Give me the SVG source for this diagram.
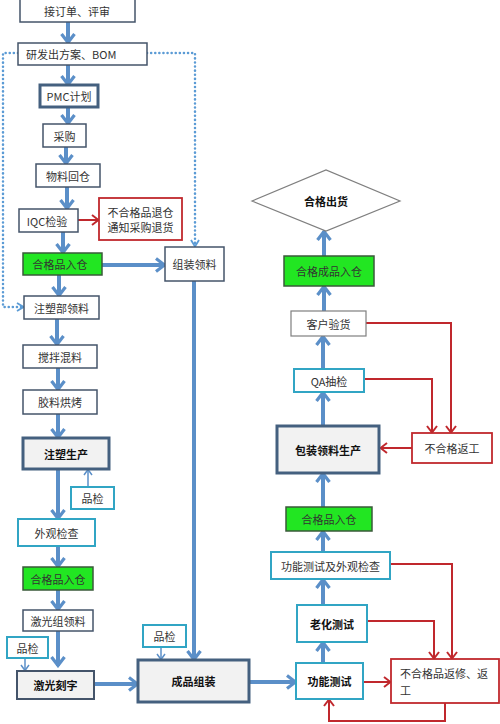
<svg xmlns="http://www.w3.org/2000/svg" width="500" height="724" viewBox="0 0 500 724">
<style>
text{font-family:"Noto Sans CJK SC","Liberation Sans",sans-serif;font-size:11px;fill:#333;text-anchor:middle;dominant-baseline:central}
.b{font-weight:bold;fill:#111}
.n{fill:#fff;stroke:#44546a;stroke-width:1.5}
.t{fill:#f2f2f2;stroke:#44607f;stroke-width:3}
.c{fill:#fff;stroke:#31a5c4;stroke-width:2}
.r{fill:#fff;stroke:#c0282d;stroke-width:1.8}
.g{fill:#22e622;stroke:#3a5a3a;stroke-width:1.5}
.gr{fill:#fff;stroke:#7f7f7f;stroke-width:1.2}
.ab{fill:none;stroke:#5b8fc8;stroke-width:4;marker-end:url(#mb)}
.at{fill:none;stroke:#5b8fc8;stroke-width:1.5;marker-end:url(#mt)}
.ar{fill:none;stroke:#c0282d;stroke-width:2;marker-end:url(#mr)}
.ad{fill:none;stroke:#5b9bd5;stroke-width:2.5;stroke-dasharray:0.1 4;stroke-linecap:round}
</style>
<defs>
<marker id="mb" markerUnits="userSpaceOnUse" viewBox="0 0 14 16" refX="12" refY="8" markerWidth="14" markerHeight="16" orient="auto"><path d="M3,1.5 L11.5,8 L3,14.5" fill="none" stroke="#5b8fc8" stroke-width="3.2"/></marker>
<marker id="mt" markerUnits="userSpaceOnUse" viewBox="0 0 10 10" refX="9" refY="5" markerWidth="10" markerHeight="10" orient="auto"><path d="M3,1 L8.5,5 L3,9" fill="none" stroke="#5b8fc8" stroke-width="1.5"/></marker>
<marker id="mr" markerUnits="userSpaceOnUse" viewBox="0 0 10 12" refX="9" refY="6" markerWidth="10" markerHeight="12" orient="auto"><path d="M2,1 L8.5,6 L2,11" fill="none" stroke="#c0282d" stroke-width="2"/></marker>
<marker id="md" markerUnits="userSpaceOnUse" viewBox="0 0 10 10" refX="9" refY="5" markerWidth="10" markerHeight="10" orient="auto"><path d="M2,1 L8.5,5 L2,9" fill="none" stroke="#5b9bd5" stroke-width="1.8"/></marker>
</defs>
<g id="connectors">
<path class="ad" d="M18,53 H3 V307 H22"/>
<path d="M17,307 H24" fill="none" stroke="none" marker-end="url(#md)"/>
<path class="ad" d="M147,53 H195 V245"/>
<path d="M195,240 V247" fill="none" stroke="none" marker-end="url(#md)"/>
<path class="ab" d="M68,22 V43"/>
<path class="ab" d="M68,65 V85"/>
<path class="ab" d="M68,107 V124"/>
<path class="ab" d="M66,147 V164"/>
<path class="ab" d="M67,187 V209"/>
<path class="ab" d="M63,232 V253"/>
<path class="ab" d="M59,275 V296"/>
<path class="ab" d="M57,319 V345"/>
<path class="ab" d="M58,368 V390"/>
<path class="ab" d="M58,414 V438"/>
<path class="ab" d="M58,469 V519"/>
<path class="ab" d="M58,546 V567"/>
<path class="ab" d="M58,590 V610"/>
<path class="ab" d="M58,631 V666"/>
<path class="ab" d="M102,265 H165"/>
<path class="ab" d="M94,684 H138"/>
<path class="ab" d="M194,281 V660"/>
<path class="ab" d="M249,682 H296"/>
<path class="ab" d="M323,663 V642"/>
<path class="ab" d="M323,605 V579"/>
<path class="ab" d="M323,552 V531"/>
<path class="ab" d="M323,507 V473"/>
<path class="ab" d="M323,426 V392"/>
<path class="ab" d="M323,369 V336"/>
<path class="ab" d="M324,311 V286"/>
<path class="ab" d="M324,256 V231"/>
<path class="at" d="M88,487 V469"/>
<path class="at" d="M25,658 V671"/>
<path class="at" d="M161,647 V660"/>
<path class="ar" d="M78,220 H99"/>
<path class="ar" d="M363,682 H391"/>
<path class="ar" d="M445,703 V721 H329 V699"/>
<path class="ar" d="M367,621 H434 V659"/>
<path class="ar" d="M390,564 H452 V659"/>
<path class="ar" d="M364,379 H432 V433"/>
<path class="ar" d="M366,323 H451 V433"/>
<path class="ar" d="M412,448 H380"/>
</g>
<g id="n1"><rect class="n" x="20" y="-1" width="115" height="23"/><text x="77" y="11">接订单、评审</text></g>
<g id="n2"><rect class="n" x="18" y="43" width="129" height="22"/><text x="26" y="54" style="text-anchor:start">研发出方案、BOM</text></g>
<g id="n3"><rect class="t" x="40" y="85" width="58" height="22" style="fill:#fff"/><text x="69" y="96">PMC计划</text></g>
<g id="n4"><rect class="n" x="43" y="124" width="43" height="23"/><text x="64.5" y="135.5">采购</text></g>
<g id="n5"><rect class="n" x="36" y="164" width="64" height="23"/><text x="68" y="175.5">物料回仓</text></g>
<g id="n6"><rect class="n" x="19" y="209" width="59" height="23"/><text x="47" y="220.5">IQC检验</text></g>
<g id="n7"><rect class="r" x="99" y="198" width="83" height="42"/><text x="140.5" y="212">不合格品退仓</text><text x="140.5" y="227">通知采购退货</text></g>
<g id="n8"><rect class="g" x="23" y="253" width="79" height="22"/><text x="60" y="264">合格品入仓</text></g>
<g id="n9"><rect class="n" x="165" y="247" width="59" height="34"/><text x="194.5" y="264">组装领料</text></g>
<g id="n10"><rect class="n" x="24" y="296" width="75" height="23"/><text x="61.5" y="307.5">注塑部领料</text></g>
<g id="n11"><rect class="n" x="23" y="345" width="74" height="23"/><text x="60" y="356.5">搅拌混料</text></g>
<g id="n12"><rect class="n" x="23" y="390" width="74" height="24"/><text x="60" y="402">胶料烘烤</text></g>
<g id="n13"><rect class="t" x="23" y="438" width="86" height="31"/><text class="b" x="66" y="453.5">注塑生产</text></g>
<g id="n14"><rect class="c" x="71" y="487" width="43" height="22"/><text x="92.5" y="498">品检</text></g>
<g id="n15"><rect class="c" x="18" y="519" width="77" height="27"/><text x="56.5" y="532.5">外观检查</text></g>
<g id="n16"><rect class="g" x="23" y="567" width="70" height="23"/><text x="58" y="578.5">合格品入仓</text></g>
<g id="n17"><rect class="n" x="23" y="610" width="70" height="21"/><text x="58" y="620.5">激光组领料</text></g>
<g id="n18"><rect class="c" x="7" y="637" width="41" height="21"/><text x="27.5" y="647.5">品检</text></g>
<g id="n19"><rect class="t" x="17" y="671" width="77" height="28" style="stroke-width:2;stroke:#44546a"/><text class="b" x="55.5" y="685">激光刻字</text></g>
<g id="n20"><rect class="t" x="138" y="660" width="111" height="42"/><text class="b" x="193.5" y="681">成品组装</text></g>
<g id="n21"><rect class="c" x="143" y="625" width="43" height="22"/><text x="164.5" y="636">品检</text></g>
<g id="n22"><rect class="c" x="296" y="663" width="67" height="36"/><text class="b" x="329.5" y="681">功能测试</text></g>
<g id="n23"><rect class="r" x="391" y="659" width="108" height="44"/><text x="400" y="673" style="text-anchor:start">不合格品返修、返</text><text x="400" y="690" style="text-anchor:start">工</text></g>
<g id="n24"><rect class="c" x="297" y="605" width="70" height="37"/><text class="b" x="332" y="623.5">老化测试</text></g>
<g id="n25"><rect class="c" x="271" y="552" width="119" height="27"/><text x="330.5" y="565.5">功能测试及外观检查</text></g>
<g id="n26"><rect class="g" x="286" y="507" width="86" height="24"/><text x="329" y="519">合格品入仓</text></g>
<g id="n27"><rect class="t" x="277" y="426" width="102" height="47"/><text class="b" x="328" y="449.5">包装领料生产</text></g>
<g id="n28"><rect class="r" x="412" y="433" width="80" height="30"/><text x="452" y="448">不合格返工</text></g>
<g id="n29"><rect class="c" x="294" y="369" width="70" height="23"/><text x="329" y="380.5">QA抽检</text></g>
<g id="n30"><rect class="gr" x="291" y="311" width="75" height="25"/><text x="328.5" y="323.5">客户验货</text></g>
<g id="n31"><rect class="g" x="284" y="256" width="90" height="30"/><text x="329" y="271">合格成品入仓</text></g>
<g id="n32"><polygon class="gr" points="252,201 326,170 400,201 326,231"/><text class="b" x="326" y="201">合格出货</text></g>
</svg>
